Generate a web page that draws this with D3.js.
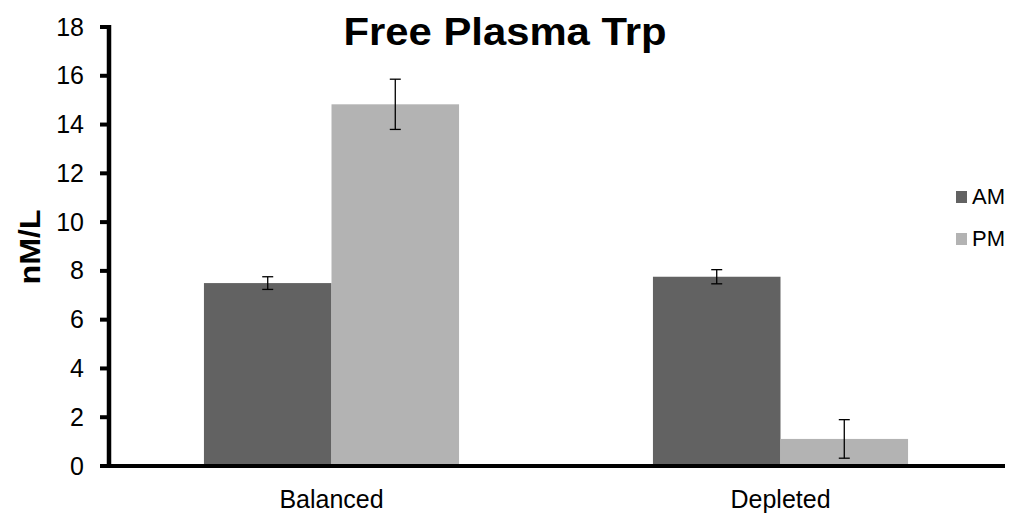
<!DOCTYPE html>
<html>
<head>
<meta charset="utf-8">
<script src="https://cdn.jsdelivr.net/npm/d3@7"></script>
<style>
    body { margin: 0; background: #fff; }
    svg { display: block; font-family: "Liberation Sans", Arial, sans-serif; }
</style>
</head>
<body>
<div id="chart"></div>
<script>
// Data for the chart
const groups = ["Balanced", "Depleted"];
const seriesNames = ["AM", "PM"];
const amValues = [7.5, 7.76];
const pmValues = [14.83, 1.11];
const amErrors = [0.26, 0.29];
const pmErrors = [1.03, 0.79];
const yTicks = [0, 2, 4, 6, 8, 10, 12, 14, 16, 18];

const colors = { AM: "#626262", PM: "#b3b3b3" };

const data = [];
groups.forEach((g, i) => {
    data.push({ group: g, series: "AM", value: amValues[i], err: amErrors[i] });
    data.push({ group: g, series: "PM", value: pmValues[i], err: pmErrors[i] });
});

const width = 1014, height = 521;
const svg = d3.select("#chart").append("svg")
    .attr("width", width)
    .attr("height", height);

const x0 = d3.scaleBand()
    .domain(groups)
    .range([107, 1005])
    .padding(0);

const x1 = d3.scaleBand()
    .domain(seriesNames)
    .range([0, x0.bandwidth()])
    .paddingInner(0)
    .paddingOuter(0.76);

const y = d3.scaleLinear()
    .domain([0, 18])
    .range([466, 27]);

// Bars
svg.append("g")
    .selectAll("rect")
    .data(data)
    .enter().append("rect")
    .attr("x", d => x0(d.group) + x1(d.series))
    .attr("y", d => y(d.value))
    .attr("width", x1.bandwidth())
    .attr("height", d => y(0) - y(d.value))
    .attr("fill", d => colors[d.series]);

// Error bars
const errG = svg.append("g")
    .attr("stroke", "#000")
    .attr("stroke-width", 1.3);

data.forEach(d => {
    const cx = x0(d.group) + x1(d.series) + x1.bandwidth() / 2;
    errG.append("line")
        .attr("x1", cx).attr("x2", cx)
        .attr("y1", y(d.value + d.err)).attr("y2", y(d.value - d.err));
    [d.value + d.err, d.value - d.err].forEach(v => {
        errG.append("line")
            .attr("x1", cx - 5.5).attr("x2", cx + 5.5)
            .attr("y1", y(v)).attr("y2", y(v));
    });
});

// Y axis (labels from d3, lines drawn thick by hand)
const yAxis = svg.append("g")
    .attr("transform", "translate(109,0)")
    .call(d3.axisLeft(y).tickValues(yTicks).tickSize(0).tickPadding(25));
yAxis.select(".domain").remove();
yAxis.selectAll(".tick text")
    .attr("font-size", 25)
    .attr("font-family", "Liberation Sans, Arial, sans-serif")
    .attr("fill", "#000");

svg.append("g")
    .selectAll("line")
    .data(yTicks)
    .enter().append("line")
    .attr("x1", 100).attr("x2", 109)
    .attr("y1", d => y(d)).attr("y2", d => y(d))
    .attr("stroke", "#000")
    .attr("stroke-width", 4);

svg.append("line")
    .attr("x1", 109).attr("x2", 109)
    .attr("y1", y(18) - 2).attr("y2", y(0))
    .attr("stroke", "#000")
    .attr("stroke-width", 4.5);

// X axis
const xAxis = svg.append("g")
    .attr("transform", `translate(0,${y(0)})`)
    .call(d3.axisBottom(x0).tickSize(0).tickPadding(24));
xAxis.select(".domain").remove();
xAxis.selectAll(".tick text")
    .attr("font-size", 25)
    .attr("font-family", "Liberation Sans, Arial, sans-serif")
    .attr("fill", "#000");

svg.append("line")
    .attr("x1", 100).attr("x2", 1005)
    .attr("y1", y(0)).attr("y2", y(0))
    .attr("stroke", "#000")
    .attr("stroke-width", 4);

// Title
svg.append("text")
    .attr("x", 505)
    .attr("y", 45)
    .attr("text-anchor", "middle")
    .attr("font-size", 39)
    .attr("font-weight", "bold")
    .attr("textLength", 323)
    .attr("lengthAdjust", "spacingAndGlyphs")
    .text("Free Plasma Trp");

// Y label
svg.append("text")
    .attr("transform", "translate(40,247) rotate(-90)")
    .attr("text-anchor", "middle")
    .attr("font-size", 29)
    .attr("font-weight", "bold")
    .attr("textLength", 75)
    .attr("lengthAdjust", "spacingAndGlyphs")
    .text("nM/L");

// Legend
const legend = svg.append("g");
seriesNames.forEach((s, i) => {
    legend.append("rect")
        .attr("x", 956)
        .attr("y", 191 + i * 42)
        .attr("width", 11)
        .attr("height", 12)
        .attr("fill", colors[s]);
    legend.append("text")
        .attr("x", 972)
        .attr("y", 204 + i * 42)
        .attr("font-size", 22)
        .text(s);
});
</script>
</body>
</html>
